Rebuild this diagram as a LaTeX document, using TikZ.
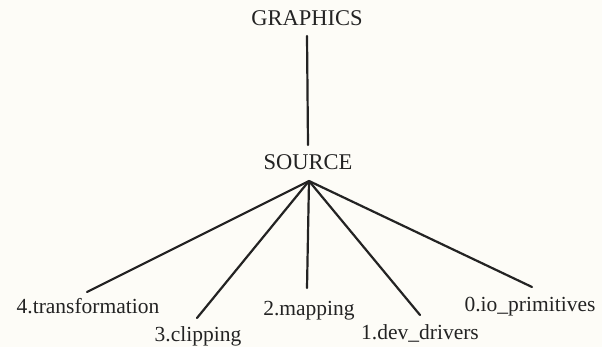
\documentclass[tikz,border=0pt]{standalone}
\usepackage{fontspec}
\setmainfont{Liberation Serif}
\definecolor{paper}{RGB}{253,252,247}
\definecolor{ink}{RGB}{35,35,35}
\begin{document}
\begin{tikzpicture}[x=1pt,y=-1pt,
  lbl/.style={font=\fontsize{21.5}{24}\selectfont, text=ink, inner sep=0pt, anchor=base},
  caplbl/.style={font=\fontsize{22.5}{24}\selectfont, text=ink, inner sep=0pt, anchor=base},
  conn/.style={draw=ink, line width=2.2pt, line cap=round}]
\useasboundingbox[fill=paper] (0,0) rectangle (602,347);
\node[caplbl] (g) at (307,26) {GRAPHICS};
\node[caplbl] (s) at (308,170) {SOURCE};
\coordinate (hub) at (309,181);
\node[lbl] (t4) at (88,313) {4.transformation};
\node[lbl] (t3) at (198,341) {3.clipping};
\node[lbl] (t2) at (309,315) {2.mapping};
\node[lbl] (t1) at (420,339) {1.dev\_drivers};
\node[lbl] (t0) at (530,311) {0.io\_primitives};
\draw[conn] ([yshift=-10pt]g.base) -- ([yshift=25pt]s.base);
\draw[conn] (hub) -- ([xshift=-1pt,yshift=21pt]t4.base);
\draw[conn] (hub) -- ([xshift=-1pt,yshift=23pt]t3.base);
\draw[conn] (hub) -- ([xshift=-2pt,yshift=27pt]t2.base);
\draw[conn] (hub) -- ([yshift=24pt]t1.base);
\draw[conn] (hub) -- ([xshift=2pt,yshift=24pt]t0.base);
\end{tikzpicture}
\end{document}
